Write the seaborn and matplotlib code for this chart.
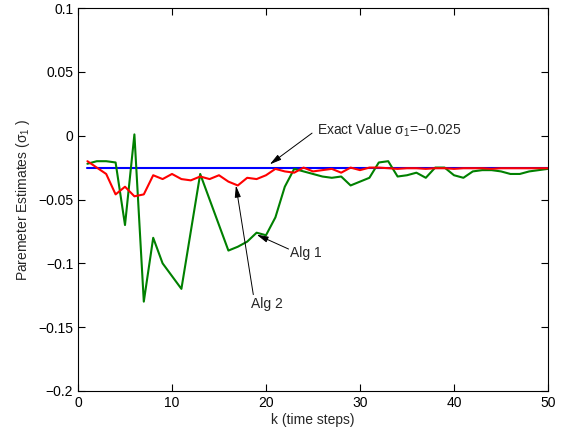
# parameter estimate plot, alg 1 vs alg 2

import numpy as np
import pandas as pd
import matplotlib
matplotlib.use('Agg')
import matplotlib.pyplot as plt
import seaborn as sns

k = list(range(1, 51))

exact_value = -0.025

alg1 = [-0.022, -0.020, -0.020, -0.021, -0.070, 0.001, -0.130, -0.080, -0.100, -0.110,
        -0.120, -0.075, -0.030, -0.050, -0.070, -0.090, -0.087, -0.083, -0.076, -0.078,
        -0.064, -0.040, -0.026, -0.028, -0.030, -0.032, -0.033, -0.032, -0.039, -0.036,
        -0.033, -0.021, -0.020, -0.032, -0.031, -0.029, -0.033, -0.025, -0.025, -0.031,
        -0.033, -0.028, -0.027, -0.027, -0.028, -0.030, -0.030, -0.028, -0.027, -0.026]

alg2 = [-0.020, -0.025, -0.030, -0.046, -0.040, -0.0475, -0.046, -0.031, -0.034, -0.030,
        -0.034, -0.035, -0.032, -0.034, -0.031, -0.036, -0.039, -0.033, -0.034, -0.031,
        -0.026, -0.028, -0.029, -0.025, -0.028, -0.027, -0.026, -0.029, -0.025, -0.027,
        -0.025, -0.025, -0.0255, -0.026, -0.0255, -0.0255, -0.026, -0.0255, -0.0255, -0.026,
        -0.0255, -0.0255, -0.0255, -0.026, -0.0255, -0.0255, -0.0255, -0.0255, -0.0255, -0.0255]

xticks = [0, 10, 20, 30, 40, 50]
yticks = [0.1, 0.05, 0, -0.05, -0.1, -0.15, -0.2]
ytick_labels = ['0.1', '0.05', '0', '\u22120.05', '\u22120.1', '\u22120.15', '\u22120.2']

df = pd.DataFrame({'k': k, 'alg1': alg1, 'alg2': alg2, 'exact': [exact_value] * len(k)})

sns.set_style('ticks')
plt.rcParams['font.family'] = ['Liberation Sans', 'DejaVu Sans']
plt.rcParams['mathtext.fontset'] = 'custom'
plt.rcParams['mathtext.rm'] = 'Liberation Sans'

fig = plt.figure(figsize=(5.66, 4.28), dpi=100)
ax = fig.add_axes([78 / 566, 1 - 391 / 428, 470 / 566, 383 / 428])

sns.lineplot(data=df, x='k', y='exact', color='#0000ff', linewidth=1.5, ax=ax)
sns.lineplot(data=df, x='k', y='alg1', color='#008000', linewidth=1.5, ax=ax)
sns.lineplot(data=df, x='k', y='alg2', color='#ff0000', linewidth=1.5, ax=ax)

ax.set_xlim(0, 50)
ax.set_ylim(-0.2, 0.1)
ax.set_xticks(xticks)
ax.set_xticklabels([str(t) for t in xticks])
ax.set_yticks(yticks)
ax.set_yticklabels(ytick_labels)
ax.tick_params(direction='in', top=True, right=True, length=5, width=0.8,
               labelsize=10, colors='black')
for s in ax.spines.values():
    s.set_visible(True)
    s.set_color('black')
    s.set_linewidth(0.8)

ax.set_xlabel('k (time steps)', fontsize=10, labelpad=2)
ax.set_ylabel('Paremeter Estimates (\u03c3$_1$ )', fontsize=10, labelpad=4)

arrow = dict(arrowstyle='-|>,head_width=0.18,head_length=0.7', color='black', lw=0.7,
             shrinkA=0, shrinkB=0)
ax.annotate('', xy=(20.4, -0.0225), xytext=(24.9, 0.002), arrowprops=arrow)
ax.text(25.4, 0.0045, 'Exact Value \u03c3$_1$=\u22120.025', fontsize=10, ha='left', va='center')

ax.annotate('', xy=(19.0, -0.0775), xytext=(22.4, -0.0888), arrowprops=arrow)
ax.text(22.6, -0.092, 'Alg 1', fontsize=10, ha='left', va='center')

ax.annotate('', xy=(16.8, -0.039), xytext=(18.65, -0.1245), arrowprops=arrow)
ax.text(18.4, -0.132, 'Alg 2', fontsize=10, ha='left', va='center')

fig.savefig('out.png', dpi=100)
